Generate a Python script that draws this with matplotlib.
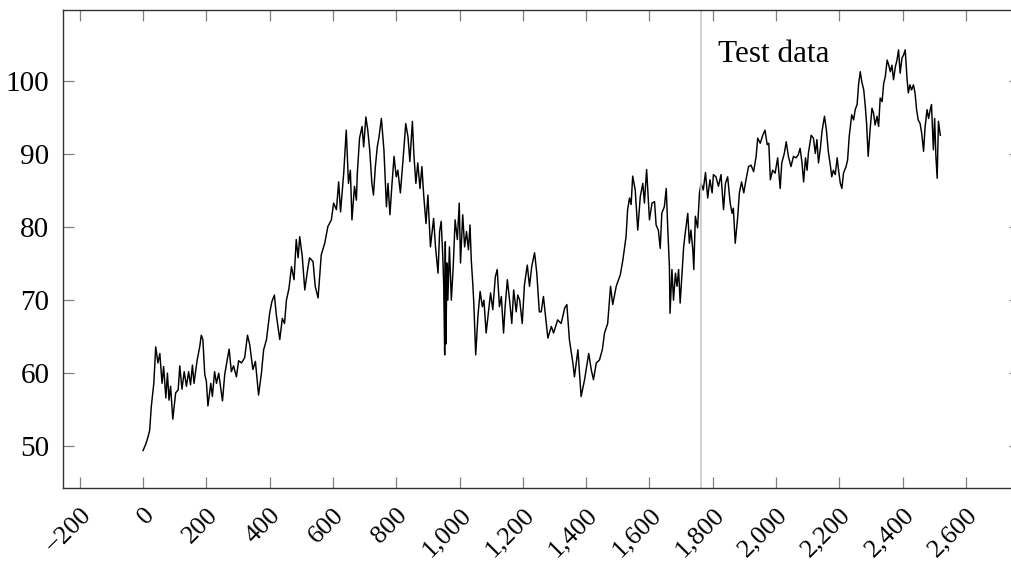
import matplotlib
matplotlib.use("Agg")
import matplotlib.pyplot as plt
from matplotlib.ticker import FixedLocator, FuncFormatter

# values (day index, price)
days = [0, 8, 16, 21, 26, 34, 40, 47, 53, 60, 65, 72, 77, 82, 87, 94, 103, 111, 116, 123,
        130, 137, 144, 150, 156, 161, 171, 179, 184, 189, 195, 200, 205, 214, 219, 226, 232, 239, 251, 258,
        265, 272, 279, 286, 295, 302, 311, 321, 330, 337, 347, 355, 365, 374, 381, 390, 400, 407, 415, 421,
        432, 440, 447, 453, 461, 469, 477, 484, 490, 495, 503, 511, 519, 526, 537, 544, 553, 558, 563, 574,
        584, 595, 602, 611, 618, 624, 634, 642, 649, 655, 660, 668, 674, 677, 684, 692, 697, 704, 710, 716,
        723, 728, 734, 740, 745, 753, 761, 769, 774, 780, 786, 793, 800, 805, 813, 821, 830, 837, 843, 851,
        856, 862, 868, 875, 881, 887, 894, 900, 908, 913, 918, 924, 932, 937, 942, 947, 950, 953, 955, 957,
        960, 963, 968, 974, 980, 986, 993, 999, 1003, 1010, 1016, 1022, 1028, 1033, 1037, 1042, 1045, 1051, 1058, 1065,
        1072, 1077, 1084, 1092, 1098, 1105, 1113, 1119, 1126, 1132, 1139, 1144, 1151, 1158, 1165, 1171, 1179, 1184, 1190, 1198,
        1205, 1214, 1221, 1228, 1237, 1244, 1252, 1258, 1265, 1279, 1290, 1297, 1310, 1321, 1332, 1339, 1347, 1358, 1363, 1374,
        1384, 1395, 1408, 1416, 1423, 1432, 1442, 1451, 1458, 1468, 1477, 1484, 1495, 1508, 1516, 1526, 1531, 1537, 1542, 1547,
        1555, 1563, 1571, 1579, 1584, 1591, 1600, 1608, 1616, 1621, 1628, 1634, 1639, 1647, 1653, 1658, 1663, 1665, 1671, 1676,
        1682, 1687, 1692, 1697, 1703, 1708, 1713, 1721, 1726, 1731, 1737, 1740, 1745, 1752, 1758, 1763, 1770, 1777, 1784, 1791,
        1798, 1802, 1810, 1818, 1826, 1834, 1840, 1847, 1855, 1861, 1865, 1871, 1879, 1884, 1891, 1898, 1905, 1913, 1921, 1929,
        1937, 1942, 1950, 1958, 1965, 1972, 1977, 1982, 1989, 1997, 2005, 2013, 2018, 2026, 2032, 2039, 2047, 2055, 2063, 2070,
        2076, 2082, 2087, 2093, 2098, 2102, 2111, 2118, 2124, 2129, 2134, 2140, 2145, 2153, 2159, 2165, 2172, 2176, 2181, 2187,
        2193, 2198, 2203, 2208, 2213, 2221, 2226, 2231, 2239, 2245, 2250, 2256, 2261, 2266, 2271, 2277, 2282, 2286, 2291, 2297,
        2303, 2308, 2313, 2319, 2324, 2329, 2335, 2340, 2345, 2351, 2356, 2361, 2366, 2371, 2377, 2382, 2387, 2392, 2398, 2403,
        2408, 2414, 2418, 2423, 2428, 2434, 2439, 2444, 2449, 2455, 2460, 2466, 2471, 2477, 2482, 2487, 2491, 2497, 2501, 2505,
        2509, 2513, 2519]

price = [49.4, 50.2, 51.3, 52.2, 55.4, 58.6, 63.6, 61.4, 62.7, 58.6, 60.9, 56.6, 60.0, 56.3, 58.2, 53.7, 57.3, 57.7, 61.0, 57.8,
         60.2, 58.2, 60.2, 58.4, 61.1, 58.6, 61.8, 63.6, 65.2, 64.6, 59.8, 58.9, 55.5, 58.6, 56.8, 60.2, 58.6, 60.0, 56.2, 59.8,
         61.6, 63.3, 60.2, 61.0, 59.5, 61.7, 61.4, 62.1, 65.2, 63.9, 60.5, 61.6, 57.0, 60.0, 63.2, 64.6, 68.2, 69.8, 70.7, 68.0,
         64.6, 67.5, 66.8, 70.0, 71.6, 74.6, 72.8, 78.3, 75.8, 78.7, 76.0, 71.4, 73.9, 75.8, 75.3, 71.9, 70.3, 73.2, 76.2, 77.8,
         80.1, 81.0, 83.3, 82.4, 86.2, 82.1, 87.4, 93.3, 86.0, 87.8, 81.0, 85.6, 83.7, 87.4, 92.2, 93.8, 91.0, 95.1, 93.3, 90.6,
         86.0, 84.4, 88.3, 91.0, 92.2, 94.9, 90.6, 82.8, 86.0, 81.7, 85.6, 89.7, 86.9, 87.8, 84.7, 89.0, 94.2, 92.4, 89.0, 94.5,
         89.7, 86.0, 88.8, 85.3, 88.3, 84.2, 80.5, 84.4, 77.3, 79.2, 81.2, 77.3, 73.7, 79.4, 80.8, 76.0, 72.0, 62.5, 78.0, 64.0,
         75.1, 70.0, 77.3, 70.0, 74.6, 81.0, 78.3, 83.3, 75.1, 81.7, 77.3, 79.4, 76.9, 80.3, 75.5, 72.1, 69.6, 62.5, 67.8, 71.2,
         69.1, 70.0, 65.5, 68.7, 71.0, 68.7, 73.2, 74.2, 69.1, 70.5, 65.5, 69.1, 72.8, 70.0, 66.8, 71.4, 68.4, 70.7, 70.0, 66.8,
         72.1, 74.8, 71.9, 74.6, 76.5, 73.7, 68.4, 68.4, 70.5, 64.8, 66.4, 65.5, 67.3, 66.8, 68.9, 69.4, 64.6, 61.4, 59.5, 63.2,
         56.8, 59.1, 62.7, 60.5, 59.1, 61.4, 61.8, 63.2, 65.5, 66.8, 71.9, 69.4, 71.9, 73.5, 75.5, 78.7, 82.4, 84.0, 83.1, 87.0,
         85.1, 79.6, 84.2, 86.0, 83.3, 87.9, 81.0, 83.3, 83.5, 80.3, 79.6, 77.1, 81.9, 82.8, 85.3, 79.6, 74.6, 68.2, 74.2, 70.0,
         73.7, 71.9, 74.2, 69.6, 73.9, 77.3, 79.2, 81.9, 77.8, 79.6, 76.9, 74.2, 81.5, 79.9, 84.7, 86.0, 85.1, 87.5, 84.0, 86.5,
         84.7, 87.2, 86.9, 85.6, 87.2, 82.4, 86.0, 86.9, 83.3, 81.9, 82.6, 77.8, 81.5, 84.7, 86.2, 84.7, 86.5, 88.3, 88.5, 87.6,
         89.7, 92.2, 91.5, 92.6, 93.3, 91.3, 91.5, 86.5, 87.8, 87.4, 89.5, 85.3, 88.8, 90.1, 91.7, 89.7, 88.3, 89.7, 89.5, 89.9,
         90.8, 88.8, 86.2, 89.5, 87.8, 90.1, 92.6, 92.2, 90.1, 92.0, 88.8, 90.8, 93.1, 95.2, 93.3, 90.4, 88.3, 86.9, 87.8, 87.2,
         89.5, 87.6, 86.0, 85.3, 87.4, 88.3, 89.2, 92.4, 95.4, 94.7, 96.1, 96.8, 99.7, 101.3, 99.9, 98.8, 96.5, 94.2, 89.7, 93.3,
         96.3, 95.6, 94.0, 95.2, 93.8, 97.7, 97.2, 99.7, 100.6, 102.9, 102.2, 101.3, 102.2, 100.2, 102.0, 102.9, 104.3, 101.1, 103.2, 103.6,
         104.3, 100.2, 98.4, 99.5, 98.8, 99.5, 98.4, 96.1, 94.7, 94.2, 92.9, 90.4, 93.8, 96.1, 94.9, 96.1, 96.8, 90.6, 94.9, 89.7,
         86.7, 94.5, 92.6]

split_day = 1763
x_ticks = list(range(-200, 2601, 200))
y_ticks = [50, 60, 70, 80, 90, 100]

plt.rcParams['font.family'] = ['Liberation Serif', 'DejaVu Serif']
plt.rcParams['axes.unicode_minus'] = True

fig = plt.figure(figsize=(10.11, 5.63), dpi=100)
ax = fig.add_axes([0.0626, 0.1337, 0.9464, 0.8491])

ax.plot(days, price, color='black', lw=1.05)
ax.axvline(split_day, color='#c8c8c8', lw=1.2)
ax.text(1818, 103.6, 'Test data', fontsize=22.5, ha='left', va='center')

ax.set_xlim(-252, 2771)
ax.set_ylim(44.3, 109.8)

ax.xaxis.set_major_locator(FixedLocator(x_ticks))
ax.yaxis.set_major_locator(FixedLocator(y_ticks))
ax.xaxis.set_major_formatter(FuncFormatter(lambda v, p: f"{v:,.0f}".replace('-', '\u2212')))
ax.tick_params(direction='in', length=8, width=0.9, color='0.5', top=True, right=True)
ax.tick_params(axis='y', pad=10, labelsize=21)
ax.tick_params(axis='x', pad=11.5, labelsize=19)
for lab in ax.get_xticklabels():
    lab.set_rotation(45)
    lab.set_rotation_mode('anchor')
    lab.set_ha('right')
    lab.set_va('top')

for s in ax.spines.values():
    s.set_color('0.2')
    s.set_linewidth(1.0)

fig.savefig('out.png', dpi=100)
